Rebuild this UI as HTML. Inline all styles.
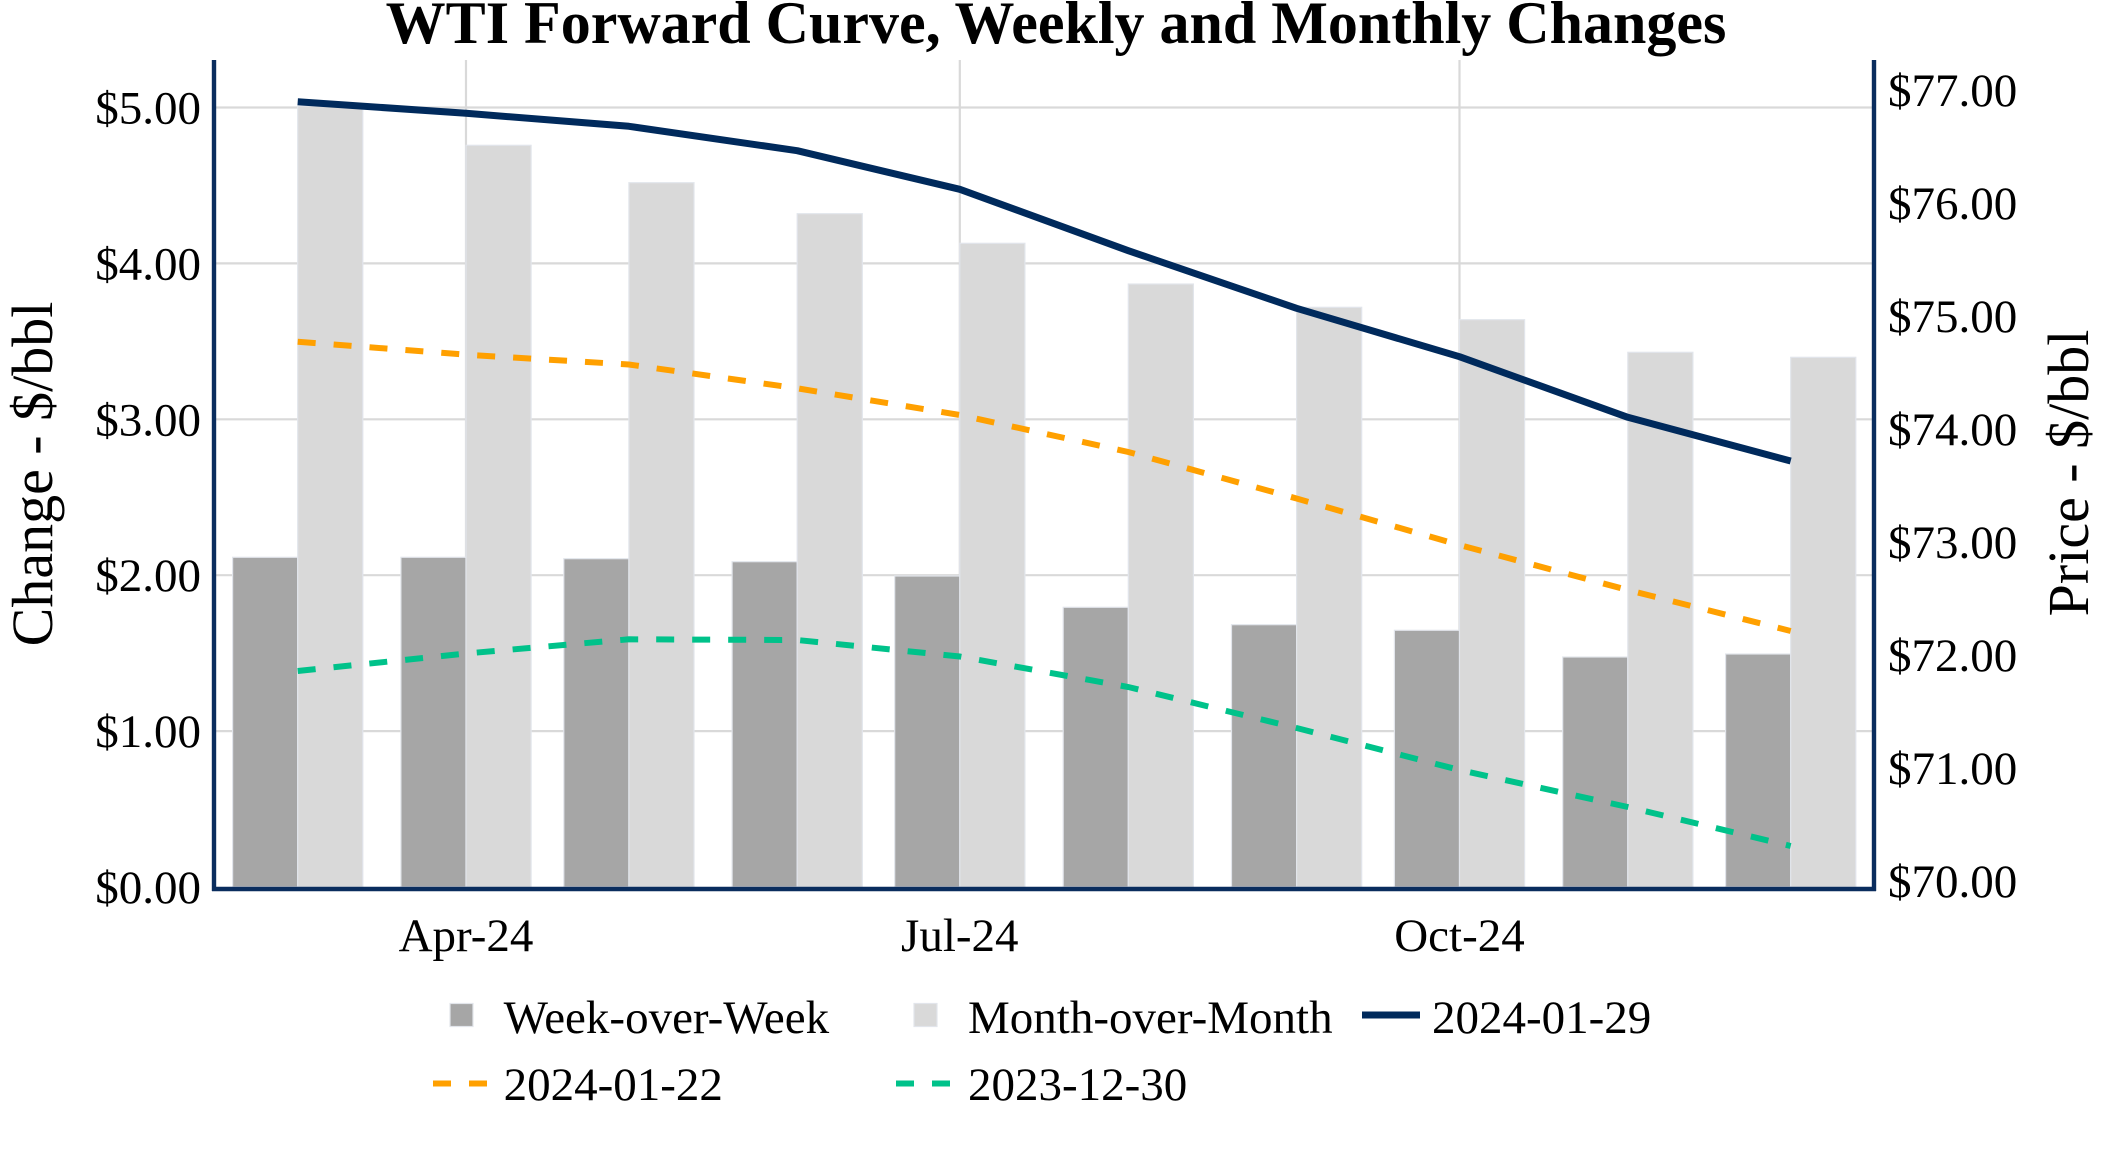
<!DOCTYPE html>
<html>
<head>
<meta charset="utf-8">
<style>
html,body{margin:0;padding:0;background:#fff;}
svg{display:block;}
text{font-family:"Liberation Serif","Times New Roman",serif;fill:#000;}
</style>
</head>
<body>
<svg width="2112" height="1152" viewBox="0 0 2112 1152" xmlns="http://www.w3.org/2000/svg">
<rect width="2112" height="1152" fill="#fff"/>

<!-- Title -->
<text x="1056" y="43" text-anchor="middle" font-size="60" font-weight="bold">WTI Forward Curve, Weekly and Monthly Changes</text>

<!-- gridlines -->
<g stroke="#d9d9d9" stroke-width="2.2">
  <line x1="216" y1="731.1" x2="1872" y2="731.1"/>
  <line x1="216" y1="575.2" x2="1872" y2="575.2"/>
  <line x1="216" y1="419.3" x2="1872" y2="419.3"/>
  <line x1="216" y1="263.4" x2="1872" y2="263.4"/>
  <line x1="216" y1="107.5" x2="1872" y2="107.5"/>
  <line x1="466" y1="60" x2="466" y2="887"/>
  <line x1="959.8" y1="60" x2="959.8" y2="887"/>
  <line x1="1459.5" y1="60" x2="1459.5" y2="887"/>
</g>

<!-- Week-over-Week bars -->
<g fill="#a6a6a6" stroke="#e2e5eb" stroke-width="1.2">
  <rect x="232.6" y="557.3" width="65.1" height="329.7"/>
  <rect x="400.9" y="557.3" width="65.1" height="329.7"/>
  <rect x="563.8" y="558.7" width="65.1" height="328.3"/>
  <rect x="732.1" y="561.7" width="65.1" height="325.3"/>
  <rect x="894.7" y="576" width="65.1" height="311"/>
  <rect x="1063.2" y="607.3" width="65.1" height="279.7"/>
  <rect x="1231.5" y="624.7" width="65.1" height="262.3"/>
  <rect x="1394.4" y="630.3" width="65.1" height="256.7"/>
  <rect x="1562.7" y="657" width="65.1" height="230"/>
  <rect x="1725.6" y="654" width="65.1" height="233"/>
</g>
<!-- Month-over-Month bars -->
<g fill="#d9d9d9" stroke="#e2e5eb" stroke-width="1.2">
  <rect x="297.7" y="106" width="65.1" height="781"/>
  <rect x="466" y="145.3" width="65.1" height="741.7"/>
  <rect x="628.9" y="182.7" width="65.1" height="704.3"/>
  <rect x="797.2" y="213.7" width="65.1" height="673.3"/>
  <rect x="959.8" y="243.3" width="65.1" height="643.7"/>
  <rect x="1128.3" y="284" width="65.1" height="603"/>
  <rect x="1296.6" y="307.3" width="65.1" height="579.7"/>
  <rect x="1459.5" y="319.7" width="65.1" height="567.3"/>
  <rect x="1627.8" y="352.3" width="65.1" height="534.7"/>
  <rect x="1790.7" y="357.3" width="65.1" height="529.7"/>
</g>

<!-- Lines -->
<polyline fill="none" stroke="#ffa000" stroke-width="6" stroke-dasharray="18 18"
  points="297.7,341.7 466,354.7 628.9,364.5 797.2,388.3 959.8,415 1128.3,452 1296.6,498.5 1459.5,545 1627.8,590 1790.7,631"/>
<polyline fill="none" stroke="#00c28a" stroke-width="6" stroke-dasharray="18 18"
  points="297.7,671 466,653.5 628.9,639.3 797.2,640 959.8,656.5 1128.3,687 1296.6,728 1459.5,770 1627.8,807 1790.7,846"/>
<polyline fill="none" stroke="#002a5c" stroke-width="7" stroke-linejoin="round"
  points="297.7,101.7 466,113.3 628.9,126.3 797.2,150.7 959.8,189.3 1128.3,250.7 1296.6,308.3 1459.5,356.7 1627.8,417.3 1790.7,461"/>

<!-- Axis lines -->
<g stroke="#0a2d5e" stroke-width="4.4">
  <line x1="214" y1="60" x2="214" y2="891"/>
  <line x1="1874" y1="60" x2="1874" y2="891"/>
  <line x1="212" y1="889" x2="1876" y2="889"/>
</g>

<!-- Left tick labels -->
<g font-size="47" text-anchor="end">
  <text x="201" y="903">$0.00</text>
  <text x="201" y="747.1">$1.00</text>
  <text x="201" y="591.2">$2.00</text>
  <text x="201" y="435.3">$3.00</text>
  <text x="201" y="279.4">$4.00</text>
  <text x="201" y="123.5">$5.00</text>
</g>

<!-- Right tick labels -->
<g font-size="47" text-anchor="start">
  <text x="1888" y="106">$77.00</text>
  <text x="1888" y="219">$76.00</text>
  <text x="1888" y="332">$75.00</text>
  <text x="1888" y="445">$74.00</text>
  <text x="1888" y="558">$73.00</text>
  <text x="1888" y="671">$72.00</text>
  <text x="1888" y="784">$71.00</text>
  <text x="1888" y="897">$70.00</text>
</g>

<!-- X tick labels -->
<g font-size="47" text-anchor="middle">
  <text x="466" y="951">Apr-24</text>
  <text x="959.8" y="951">Jul-24</text>
  <text x="1459.5" y="951">Oct-24</text>
</g>

<!-- Axis titles -->
<text transform="translate(52,474) rotate(-90)" text-anchor="middle" font-size="58">Change - $/bbl</text>
<text transform="translate(2088,473) rotate(-90)" text-anchor="middle" font-size="58">Price - $/bbl</text>

<!-- Legend -->
<rect x="450" y="1003.5" width="23" height="23" fill="#a6a6a6" stroke="#e2e5eb" stroke-width="1.2"/>
<text x="503.6" y="1033" font-size="47">Week-over-Week</text>
<rect x="914" y="1003.5" width="23" height="23" fill="#d9d9d9" stroke="#e2e5eb" stroke-width="1.2"/>
<text x="968" y="1033" font-size="47">Month-over-Month</text>
<line x1="1362" y1="1015" x2="1420" y2="1015" stroke="#002a5c" stroke-width="7"/>
<text x="1432" y="1033" font-size="47">2024-01-29</text>

<line x1="433" y1="1083.5" x2="487" y2="1083.5" stroke="#ffa000" stroke-width="6" stroke-dasharray="18 18"/>
<text x="503.6" y="1100" font-size="47">2024-01-22</text>
<line x1="896" y1="1083.5" x2="950" y2="1083.5" stroke="#00c28a" stroke-width="6" stroke-dasharray="18 18"/>
<text x="968" y="1100" font-size="47">2023-12-30</text>
</svg>
</body>
</html>
